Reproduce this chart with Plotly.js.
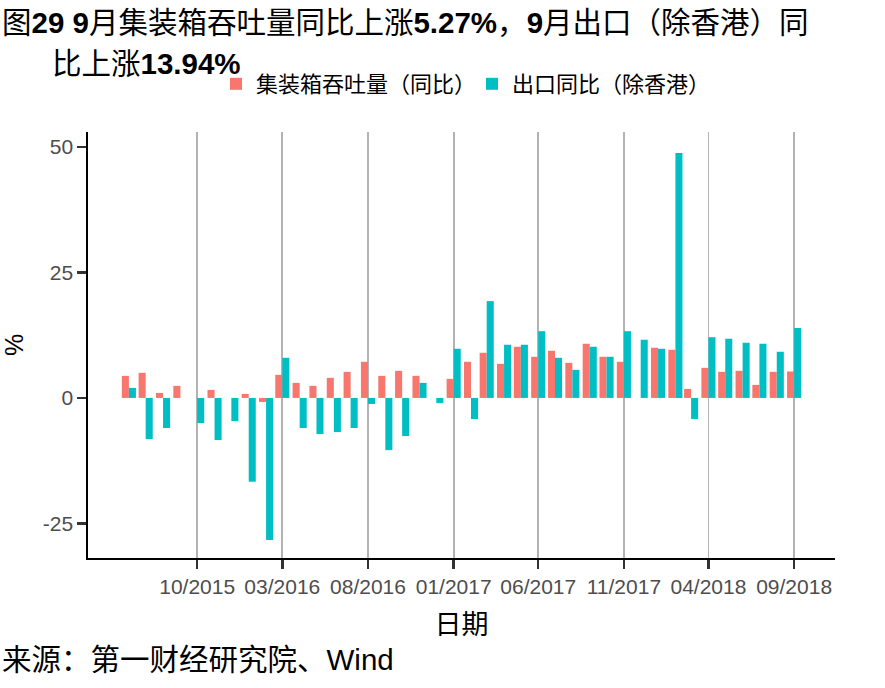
<!DOCTYPE html>
<html>
<head>
<meta charset="utf-8">
<script src="https://cdn.plot.ly/plotly-3.0.1.min.js"></script>
<style>html,body{margin:0;padding:0;background:#fff;}#chart{width:885px;height:688px;}</style>
</head>
<body>
<div id="chart"></div>
<script>
// Months (first day of each month)
const months = [
  "2015-06-01","2015-07-01","2015-08-01","2015-09-01","2015-10-01","2015-11-01","2015-12-01",
  "2016-01-01","2016-02-01","2016-03-01","2016-04-01","2016-05-01","2016-06-01","2016-07-01",
  "2016-08-01","2016-09-01","2016-10-01","2016-11-01","2016-12-01",
  "2017-01-01","2017-02-01","2017-03-01","2017-04-01","2017-05-01","2017-06-01","2017-07-01",
  "2017-08-01","2017-09-01","2017-10-01","2017-11-01","2017-12-01",
  "2018-01-01","2018-02-01","2018-03-01","2018-04-01","2018-05-01","2018-06-01","2018-07-01",
  "2018-08-01","2018-09-01"
];
// 集装箱吞吐量（同比）
const containerYoY = [
  4.4, 5.0, 1.0, 2.4, null, 1.6, null,
  0.8, -0.8, 4.6, 3.0, 2.4, 4.0, 5.2,
  7.2, 4.4, 5.4, 4.4, null,
  3.8, 7.2, 9.0, 6.8, 10.2, 8.2, 9.4,
  7.0, 10.8, 8.2, 7.2, null,
  10.0, 9.6, 1.8, 6.0, 5.2, 5.4, 2.6,
  5.2, 5.27
];
// 出口同比（除香港）
const exportYoY = [
  2.0, -8.2, -6.0, null, -5.0, -8.4, -4.6,
  -16.7, -28.3, 8.0, -6.0, -7.2, -6.8, -6.0,
  -1.2, -10.4, -7.6, 3.0, -1.0,
  9.8, -4.2, 19.3, 10.6, 10.6, 13.3, 8.0,
  5.6, 10.2, 8.2, 13.3, 11.6,
  9.8, 48.8, -4.2, 12.1, 11.8, 11.0, 10.8,
  9.2, 13.94
];
const seriesNames = ["集装箱吞吐量（同比）", "出口同比（除香港）"];
const tickDates = ["2015-10-01","2016-03-01","2016-08-01","2017-01-01","2017-06-01","2017-11-01","2018-04-01","2018-09-01"];
const tickLabels = ["10/2015","03/2016","08/2016","01/2017","06/2017","11/2017","04/2018","09/2018"];
const yTicks = [-25, 0, 25, 50];

const cjk = "Liberation Sans, Arial, Noto Sans CJK SC, sans-serif";

const traces = [
  {type: "bar", name: seriesNames[0], x: months, y: containerYoY, marker: {color: "#F8766D"}},
  {type: "bar", name: seriesNames[1], x: months, y: exportYoY, marker: {color: "#00BFC4"}}
];

const L = 88, R = 835, T = 132, B = 558;
const W = R - L, H = B - T;
const px = v => (v - L) / W;
const py = v => (B - v) / H;

const layout = {
  width: 885, height: 688,
  margin: {l: L, r: 885 - R, t: T, b: 688 - B},
  paper_bgcolor: "#fff", plot_bgcolor: "#fff",
  barmode: "group", bargap: 0.1, bargroupgap: 0,
  font: {family: cjk, color: "#000"},
  showlegend: true,
  legend: {orientation: "h", x: px(216), xanchor: "left", y: py(84), yanchor: "middle",
           entrywidth: 211,
           font: {size: 22, family: cjk, color: "#000"}, itemclick: false, bgcolor: "rgba(0,0,0,0)"},
  xaxis: {
    type: "date", range: ["2015-03-20", "2018-11-13"],
    tickvals: tickDates, ticktext: tickLabels,
    showgrid: true, gridcolor: "#b3b3b3", gridwidth: 1.8,
    showline: true, linecolor: "#000", linewidth: 1.7,
    ticks: "outside", ticklen: 9, tickcolor: "#333", tickwidth: 2.5,
    tickfont: {size: 21, color: "#4d4d4d", family: cjk},
    zeroline: false,
    title: {text: "日期", font: {size: 27, color: "#000", family: cjk}, standoff: 18}
  },
  yaxis: {
    range: [-31.9, 53], tickvals: yTicks, ticktext: yTicks.map(String),
    showgrid: false, zeroline: false,
    showline: true, linecolor: "#000", linewidth: 1.7,
    ticks: "outside", ticklen: 9, tickcolor: "#333", tickwidth: 2.5,
    tickfont: {size: 21, color: "#4d4d4d", family: cjk},
    title: {text: "%", font: {size: 25, color: "#000", family: cjk}, standoff: 20}
  },
  annotations: [
    {xref: "paper", yref: "paper", x: px(0), y: py(22), xanchor: "left", yanchor: "middle", showarrow: false,
     text: "图<b>29 9</b>月集装箱吞吐量同比上涨<b>5.27%</b>，<b>9</b>月出口（除香港）同",
     font: {size: 29.5, color: "#000", family: cjk}},
    {xref: "paper", yref: "paper", x: px(50), y: py(64), xanchor: "left", yanchor: "middle", showarrow: false,
     text: "比上涨<b>13.94%</b>",
     font: {size: 29.5, color: "#000", family: cjk}},
    {xref: "paper", yref: "paper", x: px(0), y: py(659), xanchor: "left", yanchor: "middle", showarrow: false,
     text: "来源：第一财经研究院、Wind",
     font: {size: 29.5, color: "#000", family: cjk}}
  ]
};

Plotly.newPlot("chart", traces, layout, {displayModeBar: false, staticPlot: true});
</script>
</body>
</html>
